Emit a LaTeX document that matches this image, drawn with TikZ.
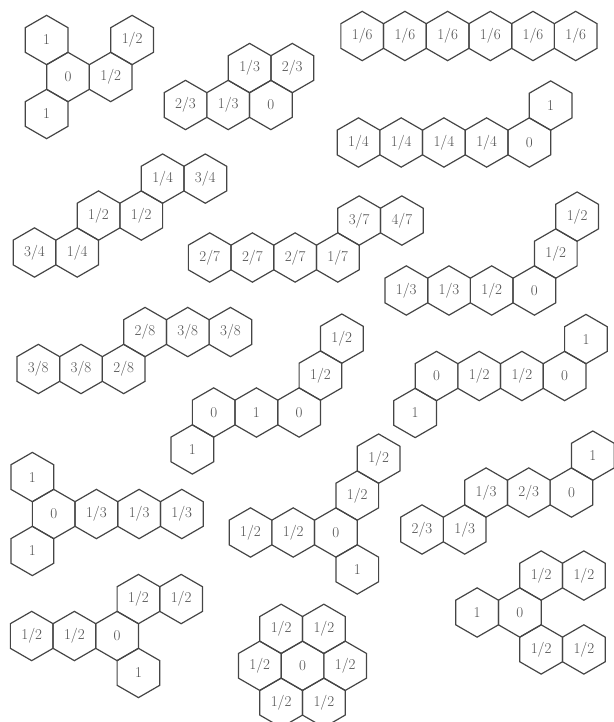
\documentclass[tikz,border=0pt]{standalone}
\usepackage{tikz}
\usetikzlibrary{shapes.geometric}
\definecolor{hexline}{HTML}{454545}
\definecolor{hextext}{HTML}{505050}

\begin{document}
\begin{tikzpicture}[
    x=1pt, y=-1pt,
    cell/.style={regular polygon, regular polygon sides=6, shape border rotate=30,
                 draw=hexline, line width=1.2pt, minimum size=49.3pt, inner sep=0pt,
                 outer sep=0pt, text=hextext, font=\fontsize{15}{15}\selectfont}
  ]
  \useasboundingbox (0,0) rectangle (613,722);

  % left column
  \node[cell] (a1) at (46.6,40.0) {1};
  \node[cell] (a2) at (68,77) {0};
  \node[cell] (a3) at (110.7,77) {1/2};
  \node[cell] (a4) at (132.1,40.0) {1/2};
  \node[cell] (a5) at (46.6,114.0) {1};

  \node[cell] (b1) at (185.5,105) {2/3};
  \node[cell] (b2) at (228.2,105) {1/3};
  \node[cell] (b3) at (270.9,105) {0};
  \node[cell] (b4) at (249.6,68.05) {1/3};
  \node[cell] (b5) at (292.3,68.05) {2/3};

  \node[cell] (e1) at (34.5,252.5) {3/4};
  \node[cell] (e2) at (77.2,252.5) {1/4};
  \node[cell] (e3) at (98.55,215.55) {1/2};
  \node[cell] (e4) at (141.25,215.55) {1/2};
  \node[cell] (e5) at (162.6,178.6) {1/4};
  \node[cell] (e6) at (205.3,178.6) {3/4};

  \node[cell] (f1) at (209.7,257.5) {2/7};
  \node[cell] (f2) at (252.4,257.5) {2/7};
  \node[cell] (f3) at (295.1,257.5) {2/7};
  \node[cell] (f4) at (337.8,257.5) {1/7};
  \node[cell] (f5) at (359.15,220.55) {3/7};
  \node[cell] (f6) at (401.85,220.55) {4/7};

  \node[cell] (h1) at (38.3,369) {3/8};
  \node[cell] (h2) at (81.0,369) {3/8};
  \node[cell] (h3) at (123.7,369) {2/8};
  \node[cell] (h4) at (145.05,332.05) {2/8};
  \node[cell] (h5) at (187.75,332.05) {3/8};
  \node[cell] (h6) at (230.45,332.05) {3/8};

  \node[cell] (i1) at (192.35,449.45) {1};
  \node[cell] (i2) at (213.7,412.5) {0};
  \node[cell] (i3) at (256.4,412.5) {1};
  \node[cell] (i4) at (299.1,412.5) {0};
  \node[cell] (i5) at (320.45,375.55) {1/2};
  \node[cell] (i6) at (341.8,338.6) {1/2};

  \node[cell] (k1) at (32.35,477.05) {1};
  \node[cell] (k2) at (53.7,514) {0};
  \node[cell] (k3) at (32.35,550.95) {1};
  \node[cell] (k4) at (96.4,514) {1/3};
  \node[cell] (k5) at (139.1,514) {1/3};
  \node[cell] (k6) at (181.8,514) {1/3};

  \node[cell] (l1) at (250.5,532.5) {1/2};
  \node[cell] (l2) at (293.2,532.5) {1/2};
  \node[cell] (l3) at (335.9,532.5) {0};
  \node[cell] (l4) at (357.25,569.45) {1};
  \node[cell] (l5) at (357.25,495.55) {1/2};
  \node[cell] (l6) at (378.6,458.6) {1/2};

  \node[cell] (n1) at (31.7,636) {1/2};
  \node[cell] (n2) at (74.4,636) {1/2};
  \node[cell] (n3) at (117.1,636) {0};
  \node[cell] (n4) at (138.45,599.05) {1/2};
  \node[cell] (n5) at (181.15,599.05) {1/2};
  \node[cell] (n6) at (138.45,672.95) {1};

  % flower
  \node[cell] (o0) at (302.5,665.8) {0};
  \node[cell] (o1) at (259.8,665.8) {1/2};
  \node[cell] (o2) at (345.2,665.8) {1/2};
  \node[cell] (o3) at (281.15,628.85) {1/2};
  \node[cell] (o4) at (323.85,628.85) {1/2};
  \node[cell] (o5) at (281.15,702.75) {1/2};
  \node[cell] (o6) at (323.85,702.75) {1/2};

  % right column
  \node[cell] (c1) at (362.2,36) {1/6};
  \node[cell] (c2) at (404.9,36) {1/6};
  \node[cell] (c3) at (447.6,36) {1/6};
  \node[cell] (c4) at (490.3,36) {1/6};
  \node[cell] (c5) at (533.0,36) {1/6};
  \node[cell] (c6) at (575.7,36) {1/6};

  \node[cell] (d1) at (358.5,142.5) {1/4};
  \node[cell] (d2) at (401.2,142.5) {1/4};
  \node[cell] (d3) at (443.9,142.5) {1/4};
  \node[cell] (d4) at (486.6,142.5) {1/4};
  \node[cell] (d5) at (529.3,142.5) {0};
  \node[cell] (d6) at (550.65,105.55) {1};

  \node[cell] (g1) at (406.3,290.5) {1/3};
  \node[cell] (g2) at (449.0,290.5) {1/3};
  \node[cell] (g3) at (491.7,290.5) {1/2};
  \node[cell] (g4) at (534.4,290.5) {0};
  \node[cell] (g5) at (555.75,253.55) {1/2};
  \node[cell] (g6) at (577.1,216.6) {1/2};

  \node[cell] (j1) at (415.15,412.95) {1};
  \node[cell] (j2) at (436.5,376) {0};
  \node[cell] (j3) at (479.2,376) {1/2};
  \node[cell] (j4) at (521.9,376) {1/2};
  \node[cell] (j5) at (564.6,376) {0};
  \node[cell] (j6) at (585.95,339.05) {1};

  \node[cell] (m1) at (422,529.5) {2/3};
  \node[cell] (m2) at (464.7,529.5) {1/3};
  \node[cell] (m3) at (486.05,492.55) {1/3};
  \node[cell] (m4) at (528.75,492.55) {2/3};
  \node[cell] (m5) at (571.45,492.55) {0};
  \node[cell] (m6) at (592.8,455.6) {1};

  \node[cell] (p1) at (477.1,612.5) {1};
  \node[cell] (p2) at (519.8,612.5) {0};
  \node[cell] (p3) at (541.15,575.55) {1/2};
  \node[cell] (p4) at (583.85,575.55) {1/2};
  \node[cell] (p5) at (541.15,649.45) {1/2};
  \node[cell] (p6) at (583.85,649.45) {1/2};
\end{tikzpicture}
\end{document}
